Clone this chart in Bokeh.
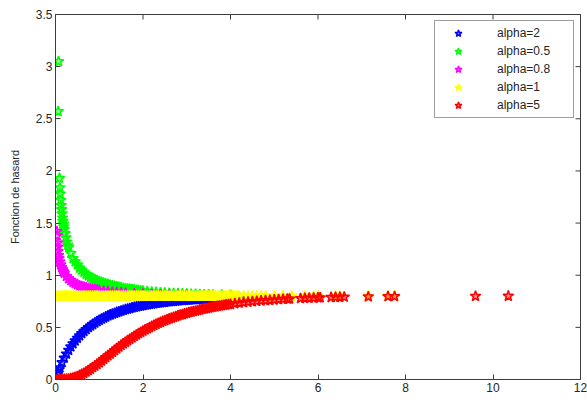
import math
from bokeh.plotting import figure
from bokeh.models import Range1d, FixedTicker
from bokeh.embed import file_html
from bokeh.resources import INLINE

# ---- data ----
x_ticks = [0, 2, 4, 6, 8, 10, 12]
y_ticks = [0, 0.5, 1, 1.5, 2, 2.5, 3, 3.5]
y_tick_labels = ["0", "0.5", "1", "1.5", "2", "2.5", "3", "3.5"]

series_labels = ["alpha=2", "alpha=0.5", "alpha=0.8", "alpha=1", "alpha=5"]
series_colors = ["#0000ff", "#00ff00", "#ff00ff", "#ffff00", "#ff0000"]

a2_x = [0.0, 0.02, 0.05, 0.08, 0.1, 0.15, 0.2, 0.25, 0.3, 0.35, 0.4, 0.45, 0.5, 0.55,
        0.6, 0.65, 0.7, 0.75, 0.8, 0.85, 0.9, 0.95, 1.0, 1.05, 1.1, 1.15, 1.2, 1.25, 1.3,
        1.35, 1.4, 1.45, 1.5, 1.55, 1.6, 1.65, 1.7, 1.75, 1.8, 1.85, 1.9, 1.95, 2.0, 2.05,
        2.1, 2.15, 2.2, 2.25, 2.3, 2.35, 2.4, 2.45, 2.5, 2.55, 2.6, 2.65, 2.7, 2.75, 2.8,
        2.85, 2.9, 2.95, 3.0, 3.05, 3.1, 3.15, 3.2, 3.25, 3.3, 3.35, 3.4, 3.45, 3.5, 3.55,
        3.6, 3.65, 3.7, 3.75, 3.8, 3.85, 3.9, 3.95, 4.0, 4.05, 4.1, 4.15, 4.2]
a2_y = [0.0, 0.025, 0.06, 0.093, 0.114, 0.163, 0.206, 0.246, 0.281, 0.314, 0.344, 0.371,
        0.397, 0.42, 0.442, 0.462, 0.48, 0.498, 0.514, 0.529, 0.543, 0.556, 0.568, 0.58,
        0.591, 0.601, 0.611, 0.62, 0.628, 0.636, 0.644, 0.651, 0.658, 0.665, 0.671, 0.677,
        0.682, 0.688, 0.693, 0.698, 0.702, 0.706, 0.71, 0.714, 0.718, 0.722, 0.725, 0.728,
        0.731, 0.734, 0.737, 0.74, 0.742, 0.745, 0.747, 0.749, 0.751, 0.753, 0.755, 0.757,
        0.758, 0.76, 0.762, 0.763, 0.765, 0.766, 0.768, 0.769, 0.77, 0.772, 0.773, 0.774,
        0.775, 0.776, 0.777, 0.778, 0.779, 0.78, 0.78, 0.781, 0.782, 0.783, 0.783, 0.784,
        0.784, 0.785, 0.786]

a05_x = [0.07, 0.06, 0.09, 0.1, 0.11, 0.12, 0.13, 0.14, 0.15, 0.16, 0.17, 0.18, 0.19, 0.2,
         0.22, 0.24, 0.26, 0.28, 0.3, 0.35, 0.4, 0.45, 0.5, 0.55, 0.6, 0.65, 0.7, 0.75, 0.8,
         0.85, 0.9, 0.95, 1.0, 1.05, 1.1, 1.15, 1.2, 1.25, 1.3, 1.35, 1.4, 1.45, 1.5, 1.55,
         1.6, 1.65, 1.7, 1.75, 1.8, 1.85, 1.9, 1.95, 2.0, 2.1, 2.2, 2.3, 2.4, 2.5, 2.6, 2.7,
         2.8, 2.9, 3.0, 3.1, 3.2, 3.3, 3.4, 3.5, 3.6, 3.8, 4.0]
a05_y = [3.05, 2.57, 1.93, 1.84, 1.78, 1.72, 1.67, 1.63, 1.59, 1.55, 1.52, 1.49, 1.465, 1.44,
         1.4, 1.36, 1.32, 1.29, 1.27, 1.21, 1.16, 1.13, 1.1, 1.07, 1.05, 1.03, 1.01, 0.995,
         0.98, 0.97, 0.96, 0.95, 0.94, 0.932, 0.925, 0.917, 0.91, 0.905, 0.9, 0.895, 0.89,
         0.885, 0.88, 0.875, 0.87, 0.868, 0.865, 0.862, 0.86, 0.856, 0.853, 0.85, 0.848,
         0.844, 0.84, 0.836, 0.833, 0.83, 0.828, 0.826, 0.824, 0.822, 0.82, 0.818, 0.817,
         0.815, 0.813, 0.812, 0.81, 0.81, 0.809]

a08_x = [0.03, 0.04, 0.05, 0.05, 0.06, 0.07, 0.08, 0.1, 0.12, 0.14, 0.16, 0.18, 0.2, 0.25,
         0.3, 0.35, 0.4, 0.45, 0.5, 0.55, 0.6, 0.65, 0.7, 0.75, 0.8, 0.85, 0.9, 0.95, 1.0,
         1.1, 1.2, 1.3, 1.4, 1.5, 1.6, 1.8, 2.0, 2.2, 2.4, 2.6, 2.8, 3.0]
a08_y = [1.42, 1.38, 1.31, 1.27, 1.23, 1.19, 1.16, 1.13, 1.1, 1.075, 1.055, 1.035, 1.02, 0.99,
         0.966, 0.95, 0.934, 0.92, 0.91, 0.9, 0.893, 0.886, 0.88, 0.875, 0.87, 0.866, 0.862,
         0.858, 0.854, 0.848, 0.843, 0.838, 0.834, 0.831, 0.828, 0.823, 0.819, 0.816, 0.813,
         0.811, 0.809, 0.807]

a1_x = [0.0, 0.05, 0.1, 0.15, 0.2, 0.25, 0.3, 0.35, 0.4, 0.45, 0.5, 0.55, 0.6, 0.65, 0.7,
        0.75, 0.8, 0.85, 0.9, 0.95, 1.0, 1.05, 1.1, 1.15, 1.2, 1.25, 1.3, 1.35, 1.4, 1.45,
        1.5, 1.55, 1.6, 1.65, 1.7, 1.75, 1.8, 1.85, 1.9, 1.95, 2.0, 2.05, 2.1, 2.15, 2.2,
        2.25, 2.3, 2.35, 2.4, 2.45, 2.5, 2.55, 2.6, 2.65, 2.7, 2.75, 2.8, 2.85, 2.9, 2.95,
        3.0, 3.05, 3.1, 3.15, 3.2, 3.25, 3.3, 3.35, 3.4, 3.45, 3.5, 3.55, 3.6, 3.65, 3.7,
        3.75, 3.8, 3.85, 3.9, 3.95, 4.0, 4.05, 4.1, 4.15, 4.2, 4.3, 4.4, 4.5, 4.6, 4.7, 4.8,
        5.0, 5.2, 5.4, 5.7, 5.9, 6.0, 6.4, 6.5, 7.15, 7.6, 7.75]
a1_y = [0.8, 0.8, 0.8, 0.8, 0.8, 0.8, 0.8, 0.8, 0.8, 0.8, 0.8, 0.8, 0.8, 0.8, 0.8,
        0.8, 0.8, 0.8, 0.8, 0.8, 0.8, 0.8, 0.8, 0.8, 0.8, 0.8, 0.8, 0.8, 0.8, 0.8,
        0.8, 0.8, 0.8, 0.8, 0.8, 0.8, 0.8, 0.8, 0.8, 0.8, 0.8, 0.8, 0.8, 0.8, 0.8,
        0.8, 0.8, 0.8, 0.8, 0.8, 0.8, 0.8, 0.8, 0.8, 0.8, 0.8, 0.8, 0.8, 0.8, 0.8,
        0.8, 0.8, 0.8, 0.8, 0.8, 0.8, 0.8, 0.8, 0.8, 0.8, 0.8, 0.8, 0.8, 0.8, 0.8,
        0.8, 0.8, 0.8, 0.8, 0.8, 0.8, 0.8, 0.8, 0.8, 0.8, 0.8, 0.8, 0.8, 0.8, 0.8, 0.8,
        0.8, 0.8, 0.8, 0.8, 0.8, 0.8, 0.8, 0.8, 0.8, 0.8, 0.8]

a5_x = [0.0, 0.05, 0.1, 0.15, 0.2, 0.25, 0.3, 0.35, 0.4, 0.45, 0.5, 0.55, 0.6, 0.65, 0.7,
        0.75, 0.8, 0.85, 0.9, 0.95, 1.0, 1.05, 1.1, 1.15, 1.2, 1.25, 1.3, 1.35, 1.4, 1.45,
        1.5, 1.55, 1.6, 1.65, 1.7, 1.75, 1.8, 1.85, 1.9, 1.95, 2.0, 2.05, 2.1, 2.15, 2.2,
        2.25, 2.3, 2.35, 2.4, 2.45, 2.5, 2.55, 2.6, 2.65, 2.7, 2.75, 2.8, 2.85, 2.9, 2.95,
        3.0, 3.05, 3.1, 3.15, 3.2, 3.25, 3.3, 3.35, 3.4, 3.45, 3.5, 3.55, 3.6, 3.65, 3.7,
        3.75, 3.8, 3.85, 3.9, 3.95, 4.0, 4.1, 4.2, 4.3, 4.4, 4.5, 4.6, 4.7, 4.8, 4.9, 5.0,
        5.1, 5.2, 5.3, 5.35, 5.6, 5.7, 5.8, 5.9, 6.0, 6.05, 6.3, 6.4, 6.5, 6.6, 7.15, 7.6,
        7.75, 9.6, 10.35]
a5_y = [0.0, 0.0, 0.0, 0.001, 0.002, 0.004, 0.006, 0.01, 0.015, 0.022, 0.03, 0.04, 0.05,
        0.061, 0.073, 0.086, 0.1, 0.115, 0.13, 0.145, 0.16, 0.177, 0.195, 0.211, 0.228,
        0.245, 0.262, 0.278, 0.295, 0.311, 0.328, 0.343, 0.358, 0.373, 0.387, 0.401, 0.415,
        0.428, 0.441, 0.453, 0.465, 0.477, 0.488, 0.499, 0.51, 0.52, 0.53, 0.54, 0.549,
        0.558, 0.566, 0.574, 0.582, 0.59, 0.597, 0.604, 0.611, 0.618, 0.624, 0.63, 0.636,
        0.642, 0.647, 0.653, 0.658, 0.663, 0.668, 0.673, 0.677, 0.682, 0.686, 0.69, 0.694,
        0.698, 0.702, 0.706, 0.709, 0.713, 0.716, 0.719, 0.722, 0.728, 0.733, 0.738, 0.743,
        0.747, 0.751, 0.755, 0.758, 0.761, 0.764, 0.767, 0.769, 0.772, 0.773, 0.778, 0.78,
        0.781, 0.782, 0.784, 0.785, 0.788, 0.789, 0.79, 0.791, 0.794, 0.796, 0.797, 0.799,
        0.8]

series_x = [a2_x, a05_x, a08_x, a1_x, a5_x]
series_y = [a2_y, a05_y, a08_y, a1_y, a5_y]

FONT = "Liberation Sans"
AXIS_COLOR = "#3c3c3c"
TEXT_COLOR = "#262626"

X0, X1, Y0, Y1 = 0, 12, 0, 3.5

p = figure(width=587, height=420, x_range=Range1d(X0, X1), y_range=Range1d(Y0, Y1),
           output_backend="svg", toolbar_location=None,
           min_border_left=55, min_border_right=7, min_border_top=14, min_border_bottom=41)
p.background_fill_color = "white"
p.border_fill_color = "white"
p.outline_line_color = AXIS_COLOR
p.grid.visible = False

for xs, ys, col, lab in zip(series_x, series_y, series_colors, series_labels):
    p.scatter(xs, ys, marker="star", size=11, line_color=col, line_width=1.5,
              fill_color=col, fill_alpha=0.45, legend_label=lab)

# inner tick marks on the top and right frame edges (MATLAB box style)
p.scatter(x_ticks, [Y1] * len(x_ticks), marker="dash", angle=math.pi / 2, size=10,
          line_color=AXIS_COLOR, line_width=1)
p.scatter([X1] * len(y_ticks), y_ticks, marker="dash", size=10,
          line_color=AXIS_COLOR, line_width=1)

def style_axis(ax):
    ax.axis_line_color = AXIS_COLOR
    ax.major_tick_line_color = AXIS_COLOR
    ax.major_tick_in = 5
    ax.major_tick_out = 0
    ax.minor_tick_line_color = None
    ax.major_label_text_font = FONT
    ax.major_label_text_color = TEXT_COLOR
    ax.major_label_text_font_size = "12px"
    ax.major_label_standoff = 3

xa = p.xaxis[0]
xa.ticker = FixedTicker(ticks=x_ticks)
style_axis(xa)

ya = p.yaxis[0]
ya.ticker = FixedTicker(ticks=y_ticks)
ya.major_label_overrides = {t: s for t, s in zip(y_ticks, y_tick_labels)}
style_axis(ya)
ya.axis_label = "Fonction de hasard"
ya.axis_label_text_font = FONT
ya.axis_label_text_font_size = "11px"
ya.axis_label_text_font_style = "normal"
ya.axis_label_text_color = TEXT_COLOR
ya.axis_label_standoff = 12

lg = p.legend[0]
lg.location = "top_right"
lg.margin = 6
lg.padding = 3
lg.spacing = 0
lg.glyph_width = 40
lg.glyph_height = 18
lg.label_height = 18
lg.label_width = 73
lg.label_standoff = 19
lg.label_text_font = FONT
lg.label_text_font_size = "12px"
lg.label_text_color = TEXT_COLOR
lg.border_line_color = AXIS_COLOR
lg.border_line_width = 1
lg.background_fill_color = "white"
lg.background_fill_alpha = 1.0

open("out.html", "w").write(file_html(p, INLINE))
